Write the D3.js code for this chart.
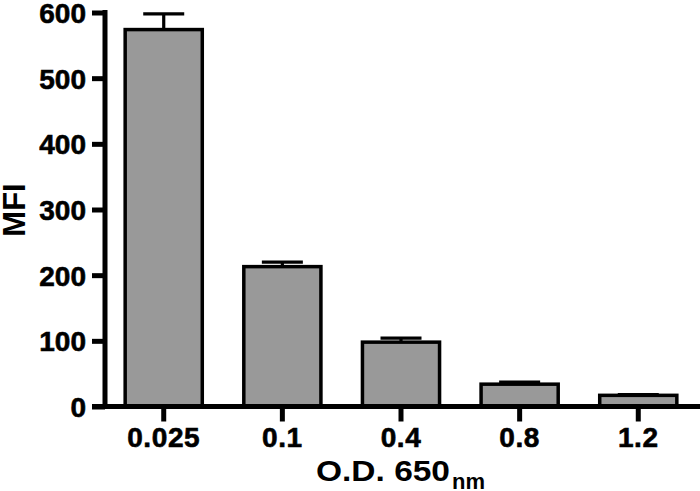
<!DOCTYPE html>
<html>
<head>
<meta charset="utf-8">
<script src="https://cdn.jsdelivr.net/npm/d3@7"></script>
<style>
  html, body { margin: 0; padding: 0; background: #fff; }
  svg { display: block; }
  text { font-family: "Liberation Sans", Arial, Helvetica, sans-serif; fill: #000; }
</style>
</head>
<body>
<svg id="chart" width="700" height="491"></svg>
<script>
const categories = ["0.025", "0.1", "0.4", "0.8", "1.2"];
const means = [574, 213, 98, 34, 17];
const errors = [24, 7, 6, 3, 1];
const yTicks = [0, 100, 200, 300, 400, 500, 600];
const yTitle = "MFI";
const xTitleMain = "O.D. 650";
const xTitleSub = "nm";

const data = categories.map((c, i) => ({ cat: c, mean: means[i], err: errors[i] }));

const svg = d3.select("#chart");
const W = 700, H = 491;

const x = d3.scaleBand()
  .domain(categories)
  .range([105, 697])
  .paddingInner(0.35)
  .paddingOuter(0.17);

const y = d3.scaleLinear()
  .domain([0, 600])
  .range([406.5, 12.5]);

const barFill = "#999999";
const lineW = 5;

// Bars
svg.append("g").selectAll("rect")
  .data(data)
  .enter().append("rect")
  .attr("x", d => x(d.cat))
  .attr("width", x.bandwidth())
  .attr("y", d => y(d.mean))
  .attr("height", d => y(0) - y(d.mean))
  .attr("fill", barFill)
  .attr("stroke", "#000")
  .attr("stroke-width", 3.5);

// Error bars (upper only)
const eg = svg.append("g").attr("stroke", "#000").attr("stroke-width", 3.2);
data.forEach(d => {
  const cx = x(d.cat) + x.bandwidth() / 2;
  const capHalf = 20.5;
  eg.append("line")
    .attr("x1", cx).attr("x2", cx)
    .attr("y1", y(d.mean)).attr("y2", y(d.mean + d.err));
  eg.append("line")
    .attr("x1", cx - capHalf).attr("x2", cx + capHalf)
    .attr("y1", y(d.mean + d.err)).attr("y2", y(d.mean + d.err));
});

// Y axis
const yAxis = d3.axisLeft(y).tickValues(yTicks).tickSize(13).tickPadding(6).tickSizeOuter(0);
const gy = svg.append("g").attr("transform", "translate(105,0)").call(yAxis);
gy.select(".domain").remove();
gy.selectAll(".tick line").attr("stroke", "#000").attr("stroke-width", lineW);
gy.selectAll(".tick text")
  .attr("font-size", 28).attr("font-weight", "bold")
  .attr("font-family", "Liberation Sans, Arial, sans-serif")
  .attr("stroke", "#000").attr("stroke-width", 0.6)
  .attr("dy", "0.36em");
gy.append("line")
  .attr("x1", 0).attr("x2", 0)
  .attr("y1", y(600) - 2.5).attr("y2", y(0))
  .attr("stroke", "#000").attr("stroke-width", lineW);

// X axis
const xAxis = d3.axisBottom(x).tickSize(15).tickPadding(4).tickSizeOuter(0);
const gx = svg.append("g").attr("transform", `translate(0,${y(0)})`).call(xAxis);
gx.select(".domain").remove();
gx.selectAll(".tick line").attr("stroke", "#000").attr("stroke-width", lineW);
gx.selectAll(".tick text")
  .attr("font-size", 28).attr("font-weight", "bold")
  .attr("font-family", "Liberation Sans, Arial, sans-serif")
  .attr("stroke", "#000").attr("stroke-width", 0.6)
  .attr("letter-spacing", 0.6)
  .attr("dy", "0.78em");
gx.append("line")
  .attr("x1", 92).attr("x2", W)
  .attr("y1", 0).attr("y2", 0)
  .attr("stroke", "#000").attr("stroke-width", lineW);

// Y title
svg.append("text")
  .attr("transform", "translate(25,210) rotate(-90)")
  .attr("text-anchor", "middle")
  .attr("font-size", 31)
  .attr("font-weight", "bold")
  .text(yTitle);

// X title
const xt = svg.append("text")
  .attr("x", 316).attr("y", 481)
  .attr("font-size", 30);
xt.append("tspan").text(xTitleMain)
  .attr("font-weight", "bold")
  .attr("textLength", 134).attr("lengthAdjust", "spacingAndGlyphs");
xt.append("tspan").text(xTitleSub)
  .attr("x", 452).attr("dy", 8)
  .attr("font-size", 22).attr("font-weight", "bold");
</script>
</body>
</html>
